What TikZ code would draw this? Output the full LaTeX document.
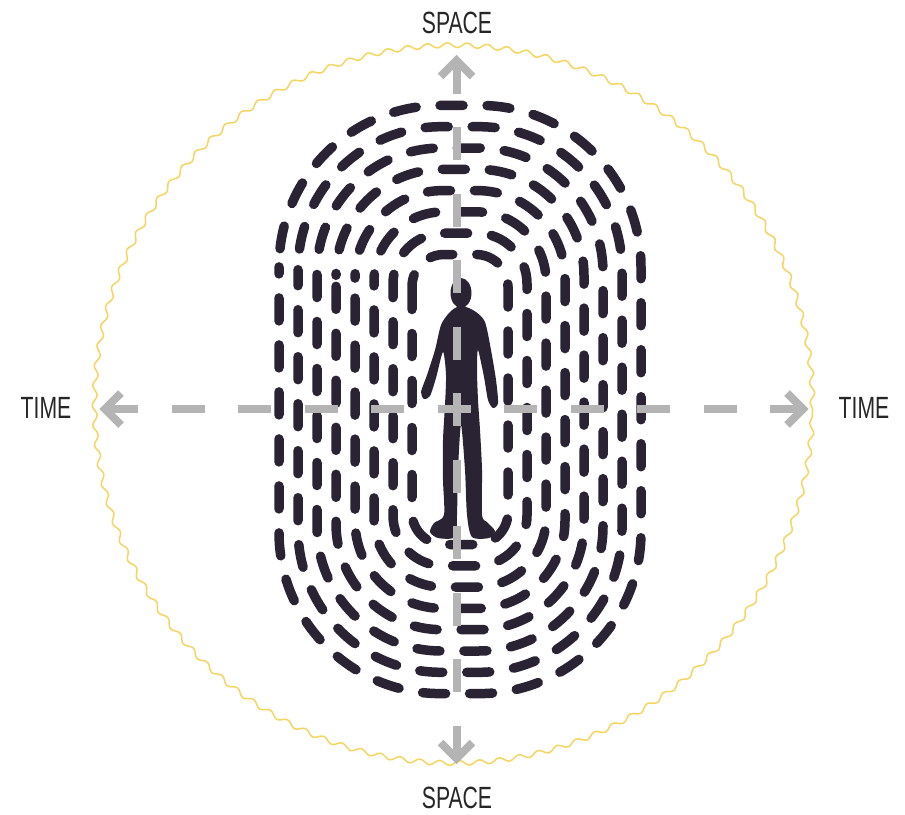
\documentclass[tikz,border=0pt]{standalone}
\usepackage{fontspec}
\newfontfamily\lblfont[FakeStretch=0.69]{Liberation Sans}
\usetikzlibrary{decorations.pathmorphing}
\definecolor{ink}{RGB}{42,35,52}
\definecolor{axisgray}{RGB}{180,180,180}
\definecolor{halo}{RGB}{246,212,96}

\begin{document}
\begin{tikzpicture}[x=1pt,y=-1pt,
  ring/.style={draw=ink, line width=9.5pt, line cap=round, dash pattern=on 23pt off 24pt},
  axisline/.style={draw=axisgray, line width=8pt, dash pattern=on 33pt off 33.5pt},
  axishead/.style={draw=axisgray, line width=8pt, line join=miter, miter limit=10},
  lbl/.style={font=\lblfont\fontsize{30.7}{32}\selectfont, text=black!85, inner sep=0pt},
  haloline/.style={draw=halo, line width=1.5pt, decorate,
    decoration={snake, segment length=19.96pt, amplitude=2.4pt}}]

\useasboundingbox (0,0) rectangle (905,814);

% wavy outer circle
\coordinate (o) at (453.5,409);
\path[haloline] (o) circle[radius=359pt];

% concentric dashed rings around the figure
\foreach \i in {0,...,7}{
  \pgfmathsetmacro\ha{48+19*\i}
  \pgfmathsetmacro\hb{145+21.3*\i}
  \pgfmathsetmacro\rr{32+18.5*\i}
  \pgfmathsetmacro\ph{9*\i}
  \draw[ring, rounded corners=\rr pt, dash phase=\ph pt]
    (460-\ha,399.5-\hb) rectangle (460+\ha,399.5+\hb);
}

% standing figure
\fill[ink] (461,293) ellipse[x radius=10.5pt, y radius=15pt];
\fill[ink] plot[smooth cycle, tension=0.45] coordinates {
  (457,307) (449,313) (441,325) (435,350) (427,375) (421,392) (424,399)
  (430,396) (436,378) (443,352) (446,375) (445,405) (443,440) (443,480)
  (444,515) (434,523) (430,532) (438,538) (455,537) (457,515) (458,470)
  (461,425) (465,470) (467,515) (472,537) (489,538) (495,531) (487,522)
  (482,515) (482,470) (480,430) (478,400) (477,370) (478,350) (484,377)
  (488,400) (493,408) (498,403) (496,380) (491,350) (485,322) (476,312)
  (466,307)};

% axes
\coordinate (top) at (456.5,60.5);
\coordinate (bot) at (456.5,758.5);
\coordinate (left) at (105,409);
\coordinate (right) at (803,409);
\draw[axisline] (top) -- (bot);
\draw[axisline] (left) -- (right);
\draw[axishead] (top) ++(-16,16) -- (top) -- ++(16,16);
\draw[axishead] (bot) ++(-16,-16) -- (bot) -- ++(16,-16);
\draw[axishead] (left) ++(16,-16) -- (left) -- ++(16,16);
\draw[axishead] (right) ++(-16,-16) -- (right) -- ++(-16,16);

% labels
\node[lbl] (spacetop) at (457,22.5) {SPACE};
\node[lbl] (spacebot) at (457,797.5) {SPACE};
\node[lbl] (timeleft) at (46,408) {TIME};
\node[lbl] (timeright) at (864,408) {TIME};
\end{tikzpicture}
\end{document}
